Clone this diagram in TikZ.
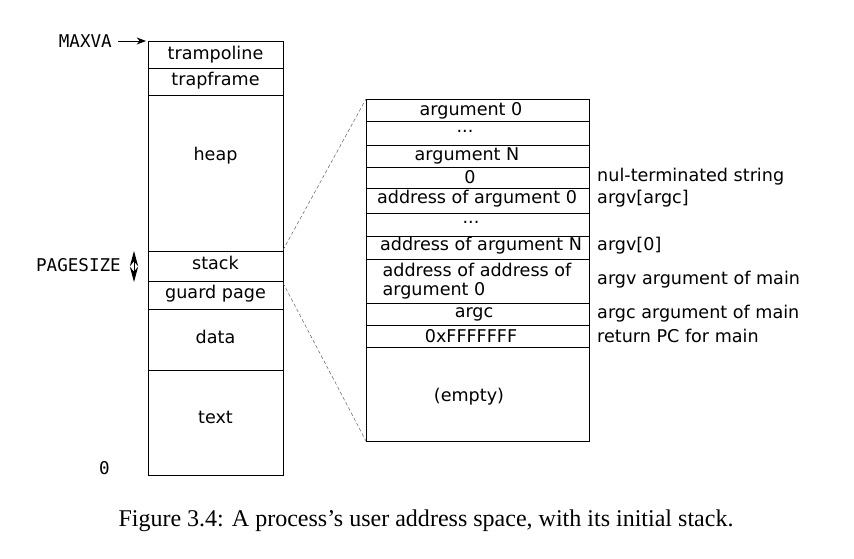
\documentclass[tikz,border=0pt]{standalone}
\usepackage{fontspec}
\setmainfont{DejaVu Sans}
\setmonofont{DejaVu Sans Mono}
\newfontfamily\capfont{Liberation Serif}
\usetikzlibrary{arrows.meta}
\begin{document}
\begin{tikzpicture}[x=0.03cm,y=-0.03cm,font=\fontsize{15}{16.5}\selectfont,
  lbl/.style={inner sep=0pt},
  side/.style={inner sep=0pt,anchor=west},
  mono/.style={inner sep=0pt,font=\ttfamily\fontsize{15}{16.5}\selectfont}]
\useasboundingbox (0,0) rectangle (854,559);
% left: address space
\draw[thick] (148,41) rectangle (283,475);
\foreach \y in {68,95,251,281,309,370} \draw (148,\y) -- (283,\y);
\node[lbl] (tr) at (215.5,55) {trampoline};
\node[lbl] (tf) at (215.5,81) {trapframe};
\node[lbl] (hp) at (215.5,156) {heap};
\node[lbl] (st) at (215.5,263) {stack};
\node[lbl] (gp) at (215.5,294) {guard page};
\node[lbl] (dt) at (215.5,337) {data};
\node[lbl] (tx) at (215.5,417) {text};
\node[mono,anchor=east] (maxva) at (112,41) {MAXVA};
\coordinate (mtop) at (146,41);
\draw[thick,-{Stealth[length=8pt,width=6pt]}] (maxva.east) ++(6,0) -- (mtop);
\node[mono,anchor=east] (zero) at (110,468) {0};
\node[mono,anchor=east] (ps) at (121,265) {PAGESIZE};
\coordinate (pa) at (134,251); \coordinate (pb) at (134,282);
\draw[{Stealth[length=13pt,width=7pt]}-{Stealth[length=13pt,width=7pt]},thick] (pa) -- (pb);
% right: initial stack
\draw (366,99) rectangle (589,441);
\foreach \y in {121,145,167,188,213,236,259,303,325,347} \draw (366,\y) -- (589,\y);
\node[lbl] (a0) at (471,111) {argument 0};
\node[lbl] (d1) at (465,131) {...};
\node[lbl] (aN) at (467,156) {argument N};
\node[lbl] (z) at (470,177) {0};
\node[lbl] (ad0) at (477,199) {address of argument 0};
\node[lbl] (d2) at (471,222) {...};
\node[lbl] (adN) at (481,246) {address of argument N};
\node[lbl,align=left] (aa) at (477,281) {address of address of\\argument 0};
\node[lbl] (ac) at (474,314) {argc};
\node[lbl] (ff) at (471,336) {0xFFFFFFF};
\node[lbl] (em) at (469,397) {(empty)};
\node[side] (s1) at (597,177) {nul-terminated string};
\node[side] (s2) at (597,199) {argv[argc]};
\node[side] (s3) at (597,246) {argv[0]};
\node[side] (s4) at (597,280) {argv argument of main};
\node[side] (s5) at (597,314) {argc argument of main};
\node[side] (s6) at (597,336) {return PC for main};
\draw[densely dashed,gray!70!black] (283,250) -- (366,99);
\draw[densely dashed,gray!70!black] (283,283) -- (366,441);
\node[lbl,font=\capfont\fontsize{20.5}{22}\selectfont] (cap) at (426,521) {Figure 3.4: A process’s user address space, with its initial stack.};
\end{tikzpicture}
\end{document}
